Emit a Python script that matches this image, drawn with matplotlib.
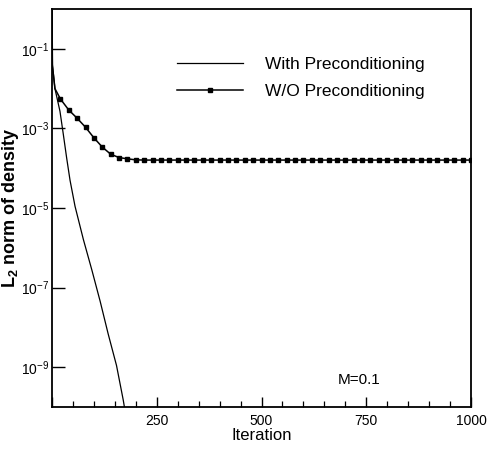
import matplotlib
matplotlib.use("Agg")
import matplotlib.pyplot as plt
from matplotlib.ticker import FixedLocator, FixedFormatter, NullFormatter

plt.rcParams['font.family'] = ['Liberation Sans', 'DejaVu Sans']
plt.rcParams['mathtext.default'] = 'regular'

# ---- data ----
with_iter = [0, 1, 7, 19, 27, 35, 43, 55, 75, 95, 115, 134, 154, 170, 176]
with_vals = [0.9, 4.0e-2, 1.0e-2, 2.7e-3, 7.1e-4, 1.8e-4, 5.0e-5, 1.1e-5, 1.6e-6,
             2.8e-7, 4.5e-8, 6.9e-9, 1.1e-9, 1.5e-10, 6.3e-11]

wo_iter = [0, 1, 7, 20, 40, 60, 80, 100, 120, 140, 160, 180, 200, 220, 240, 260, 280,
           300, 320, 340, 360, 380, 400, 420, 440, 460, 480, 500, 520, 540, 560, 580,
           600, 620, 640, 660, 680, 700, 720, 740, 760, 780, 800, 820, 840, 860, 880,
           900, 920, 940, 960, 980, 1000]
wo_vals = [0.9, 3.7e-2, 1.0e-2, 5.5e-3, 2.9e-3, 1.8e-3, 1.07e-3, 5.8e-4, 3.4e-4, 2.25e-4,
           1.85e-4, 1.72e-4, 1.62e-4, 1.6e-4, 1.6e-4, 1.6e-4, 1.6e-4, 1.6e-4, 1.6e-4,
           1.6e-4, 1.6e-4, 1.6e-4, 1.6e-4, 1.6e-4, 1.6e-4, 1.6e-4, 1.6e-4, 1.6e-4,
           1.6e-4, 1.6e-4, 1.6e-4, 1.6e-4, 1.6e-4, 1.6e-4, 1.6e-4, 1.6e-4, 1.6e-4,
           1.6e-4, 1.6e-4, 1.6e-4, 1.6e-4, 1.6e-4, 1.6e-4, 1.6e-4, 1.6e-4, 1.6e-4,
           1.6e-4, 1.6e-4, 1.6e-4, 1.6e-4, 1.6e-4, 1.6e-4, 1.6e-4]

series_labels = ["With Preconditioning", "W/O Preconditioning"]
x_major = [0, 250, 500, 750, 1000]
x_major_labels = ["", "250", "500", "750", "1000"]
x_minor = [50, 100, 150, 200, 300, 350, 400, 450, 550, 600, 650, 700, 800, 850, 900, 950]
y_major = [1e-1, 1e-3, 1e-5, 1e-7, 1e-9]
y_major_labels = ["10$^{-1}$", "10$^{-3}$", "10$^{-5}$", "10$^{-7}$", "10$^{-9}$"]
annotation = "M=0.1"

fig = plt.figure(figsize=(4.9, 4.51), dpi=100)
ax = fig.add_axes([52/490, 44/451, 419/490, 398/451])

ax.plot(with_iter, with_vals, color='black', lw=0.9, label=series_labels[0])
ax.plot(wo_iter, wo_vals, color='black', lw=1.1, marker='s', ms=2.6,
        markevery=list(range(3, len(wo_iter))), label=series_labels[1])

ax.set_yscale('log')
ax.set_xlim(0, 1000)
ax.set_ylim(1e-10, 1)

ax.xaxis.set_major_locator(FixedLocator(x_major))
ax.xaxis.set_major_formatter(FixedFormatter(x_major_labels))
ax.xaxis.set_minor_locator(FixedLocator(x_minor))
ax.xaxis.set_minor_formatter(NullFormatter())
ax.yaxis.set_major_locator(FixedLocator(y_major))
ax.yaxis.set_major_formatter(FixedFormatter(y_major_labels))
ax.yaxis.set_minor_locator(FixedLocator([]))

ax.tick_params(axis='x', which='major', direction='in', length=7, width=1.0,
               labelsize=10, pad=5)
ax.tick_params(axis='x', which='minor', direction='in', length=4, width=0.9)
ax.tick_params(axis='y', which='major', direction='in', length=9, width=1.0,
               labelsize=10, pad=2)

for sp in ax.spines.values():
    sp.set_linewidth(1.3)

ax.set_xlabel("Iteration", fontsize=12, labelpad=0)
ax.set_ylabel("L$_2$ norm of density", fontsize=13, fontweight='bold', labelpad=0)

leg = ax.legend(loc='upper left', bbox_to_anchor=(0.298, 0.88), frameon=False,
                fontsize=12.5, handlelength=3.8, handletextpad=1.3, labelspacing=0.68,
                borderpad=0, borderaxespad=0, numpoints=1)

ax.text(0.733, 0.068, annotation, transform=ax.transAxes, fontsize=11,
        ha='center', va='center')

fig.savefig("out.png", dpi=100)
